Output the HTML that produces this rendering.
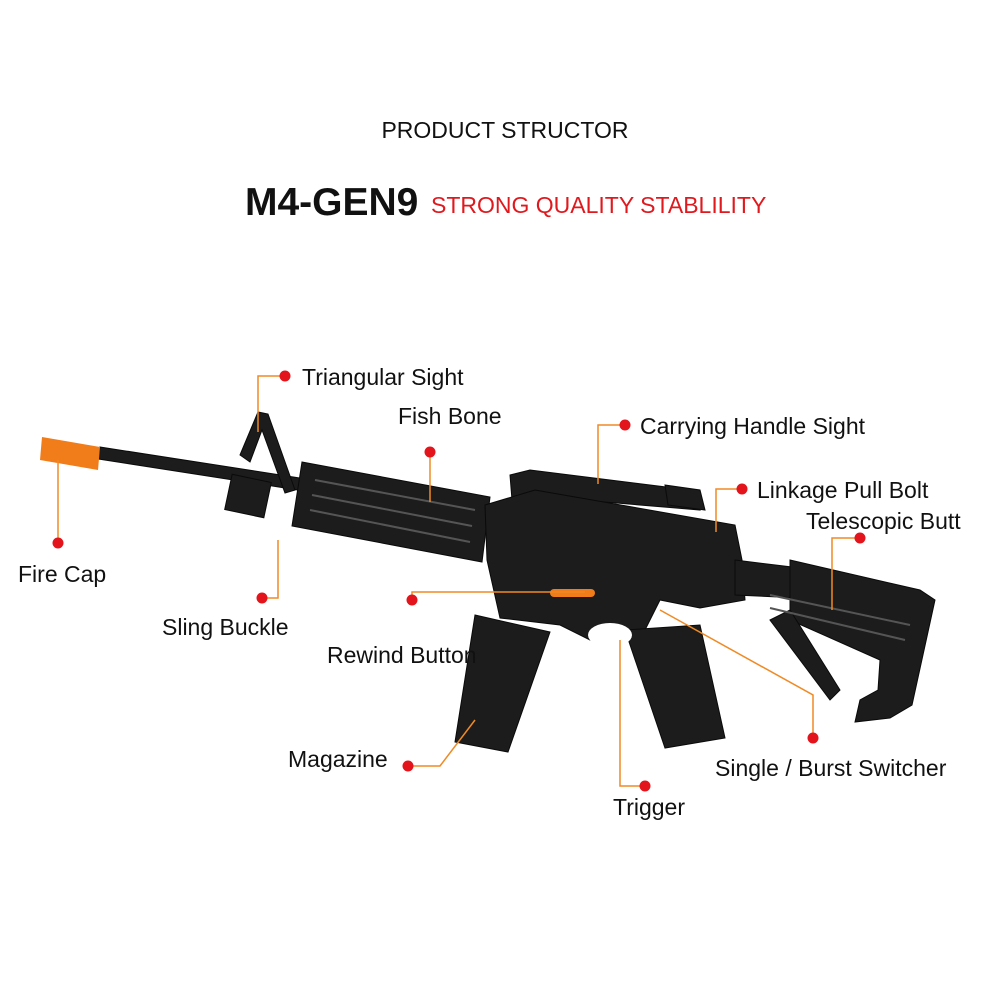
<!DOCTYPE html>
<html><head><meta charset="utf-8"><style>
body{margin:0;background:#fff}
svg{display:block}
text{font-family:"Liberation Sans",sans-serif}
</style></head><body>
<svg width="1000" height="1000" viewBox="0 0 1000 1000">
<rect width="1000" height="1000" fill="#fff"/>
<text x="505" y="138" font-size="23" text-anchor="middle" fill="#111">PRODUCT STRUCTOR</text>
<text x="245" y="215" font-size="39" font-weight="bold" fill="#111">M4-GEN9</text>
<text x="431" y="213" font-size="23" fill="#e0191e">STRONG QUALITY STABLILITY</text>

<g fill="#1c1c1c" stroke="#0a0a0a">
<polygon points="100,447 300,478 298,490 98,459"/>
<polygon points="240,455 258,412 268,414 295,490 285,493 262,430 250,462"/>
<rect x="228" y="478" width="40" height="36" transform="rotate(12 248 496)"/>
<polygon points="302,462 490,497 482,562 292,526"/>
<polygon points="510,475 530,470 690,490 700,510 520,495 512,500"/>
<polygon points="665,485 700,490 705,510 668,505"/>
<polygon points="485,505 535,490 735,525 742,560 745,600 700,608 660,600 640,640 590,640 560,625 500,618 487,560"/>
<polygon points="735,560 800,568 800,598 735,595"/>
<polygon points="790,560 920,590 935,600 912,705 890,718 855,722 860,700 878,690 880,660 790,620"/>
<polygon points="770,620 790,610 840,690 830,700"/>
<polygon points="475,615 550,632 508,752 455,742"/>
<polygon points="625,630 700,625 725,738 665,748"/>
</g>
<ellipse cx="610" cy="635" rx="22" ry="12" fill="#fff"/>
<g stroke="#555" stroke-width="2" fill="none">
<line x1="315" y1="480" x2="475" y2="510"/><line x1="312" y1="495" x2="472" y2="526"/><line x1="310" y1="510" x2="470" y2="542"/>
<line x1="770" y1="595" x2="910" y2="625"/><line x1="770" y1="608" x2="905" y2="640"/>
</g>
<polygon points="42,437 100,447 98,470 40,460" fill="#f07d1a"/>
<rect x="550" y="589" width="45" height="8" rx="4" fill="#f07d1a"/>

<g stroke="#f08a24" stroke-width="1.5" fill="none">
<polyline points="285,376 258,376 258,432"/>
<polyline points="430,452 430,502"/>
<polyline points="625,425 598,425 598,484"/>
<polyline points="742,489 716,489 716,532"/>
<polyline points="860,538 832,538 832,610"/>
<polyline points="58,543 58,460"/>
<polyline points="262,598 278,598 278,540"/>
<polyline points="412,600 412,592 585,592"/>
<polyline points="408,766 440,766 475,720"/>
<polyline points="813,738 813,695 660,610"/>
<polyline points="645,786 620,786 620,640"/>
</g>
<g fill="#e3141b">
<circle cx="285" cy="376" r="5.5"/><circle cx="430" cy="452" r="5.5"/><circle cx="625" cy="425" r="5.5"/>
<circle cx="742" cy="489" r="5.5"/><circle cx="860" cy="538" r="5.5"/><circle cx="58" cy="543" r="5.5"/>
<circle cx="262" cy="598" r="5.5"/><circle cx="412" cy="600" r="5.5"/><circle cx="408" cy="766" r="5.5"/>
<circle cx="813" cy="738" r="5.5"/><circle cx="645" cy="786" r="5.5"/>
</g>
<g font-size="23" fill="#111">
<text x="302" y="385">Triangular Sight</text>
<text x="398" y="424">Fish Bone</text>
<text x="640" y="434">Carrying Handle Sight</text>
<text x="757" y="498">Linkage Pull Bolt</text>
<text x="806" y="529">Telescopic Butt</text>
<text x="18" y="582">Fire Cap</text>
<text x="162" y="635">Sling Buckle</text>
<text x="327" y="663">Rewind Button</text>
<text x="288" y="767">Magazine</text>
<text x="715" y="776">Single / Burst Switcher</text>
<text x="613" y="815">Trigger</text>
</g>
</svg>
</body></html>
